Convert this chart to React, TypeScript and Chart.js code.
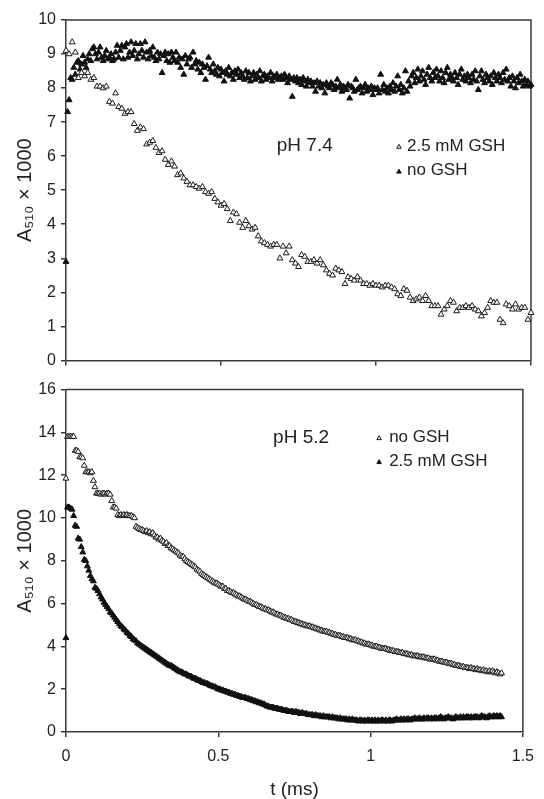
import React, { useEffect, useRef } from "react";
import { Chart, registerables } from "chart.js";

Chart.register(...registerables);

// sampling intervals of the traces (ms)
const DT_COARSE = 0.01;
const DT_FINE = 0.005;

// x axis ticks (ms)
const X_MIN = 0;
const X_MAX = 1.5;
const X_STEP = 0.5;

// y axis ticks
const TOP_Y_MAX = 10;
const TOP_Y_STEP = 1;
const BOT_Y_MAX = 16;
const BOT_Y_STEP = 2;

// pH 7.4, 2.5 mM GSH (open triangles), t = 0 .. 1.50 ms, step 0.01
const TOP_GSH = [
  9.1, 9.0, 9.35, 9.05, 8.3, 8.45, 8.35, 8.45, 8.25, 8.3,
  8.05, 8.05, 8.0, 8.05, 7.6, 7.55, 7.85, 7.45, 7.4, 7.25,
  7.3, 7.3, 6.95, 6.75, 6.85, 6.8, 6.35, 6.4, 6.45, 6.25,
  6.1, 6.15, 5.9, 5.75, 5.85, 5.7, 5.45, 5.5, 5.35, 5.25,
  5.15, 5.15, 5.1, 5.05, 5.1, 4.95, 4.9, 4.95, 4.75, 4.65,
  4.55, 4.6, 4.45, 4.1, 4.35, 4.3, 4.05, 3.9, 4.1, 3.95,
  3.85, 3.9, 3.65, 3.5, 3.45, 3.4, 3.35, 3.4, 3.4, 3.0,
  3.35, 3.15, 3.35, 2.95, 2.85, 2.75, 3.1, 3.05, 2.9, 2.9,
  2.95, 2.85, 2.95, 2.8, 2.65, 2.55, 2.5, 2.7, 2.65, 2.6,
  2.25, 2.45, 2.4, 2.35, 2.45, 2.35, 2.25, 2.25, 2.2, 2.25,
  2.2, 2.2, 2.15, 2.2, 2.2, 2.15, 2.1, 1.95, 1.9, 2.1,
  2.05, 1.85, 1.75, 1.8, 1.85, 1.75, 1.9, 1.75, 1.6, 1.6,
  1.6, 1.35, 1.5, 1.6, 1.75, 1.7, 1.45, 1.55, 1.55, 1.6,
  1.55, 1.6, 1.5, 1.45, 1.3, 1.4, 1.55, 1.75, 1.7, 1.7,
  1.2, 1.1, 1.65, 1.6, 1.5, 1.65, 1.5, 1.55, 1.55, 1.2,
  1.4,
];

// pH 7.4, no GSH (filled triangles), t = 0 .. 1.50 ms, step 0.005
const TOP_NO_GSH = [
  2.9, 7.3, 7.65, 8.3, 8.25, 8.6, 8.4, 8.75, 8.8, 8.55,
  8.7, 8.95, 8.75, 8.6, 8.85, 9.0, 8.8, 9.15, 9.2, 9.0,
  8.85, 9.05, 9.2, 8.9, 8.8, 8.95, 9.1, 8.85, 8.9, 9.0,
  8.8, 8.85, 9.05, 9.25, 8.9, 9.1, 9.25, 8.85, 9.2, 9.3,
  8.9, 9.05, 9.35, 8.95, 9.1, 9.3, 8.85, 9.0, 9.3, 9.1,
  8.9, 9.35, 9.05, 8.85, 9.1, 8.95, 9.2, 8.9, 8.8, 9.05,
  8.85, 9.0, 8.45, 8.95, 9.05, 8.8, 9.0, 8.75, 9.05, 8.9,
  8.8, 9.05, 8.75, 8.9, 8.6, 8.85, 8.4, 8.95, 8.7, 8.85,
  8.9, 8.6, 9.05, 8.7, 8.8, 8.55, 8.75, 8.45, 8.7, 8.6,
  8.25, 8.65, 8.9, 8.55, 8.45, 8.7, 8.5, 8.4, 8.6, 8.35,
  8.55, 8.45, 8.2, 8.5, 8.4, 8.6, 8.35, 8.45, 8.25, 8.5,
  8.4, 8.55, 8.3, 8.45, 8.35, 8.25, 8.5, 8.3, 8.45, 8.2,
  8.35, 8.45, 8.25, 8.4, 8.3, 8.5, 8.2, 8.35, 8.4, 8.25,
  8.35, 8.3, 8.45, 8.2, 8.35, 8.3, 8.4, 8.25, 8.3, 8.35,
  8.25, 8.4, 8.3, 8.15, 8.35, 8.25, 7.75, 8.3, 8.2, 8.3,
  8.15, 8.25, 8.1, 8.3, 8.2, 8.05, 8.25, 8.15, 8.2, 8.05,
  8.15, 7.9, 8.2, 8.05, 8.15, 8.0, 8.1, 7.85, 8.15, 8.05,
  8.0, 8.15, 8.1, 7.95, 8.05, 8.25, 8.0, 8.1, 7.9, 8.05,
  8.0, 7.95, 8.1, 7.7, 8.05, 8.0, 7.9, 8.25, 7.95, 8.0,
  8.05, 7.85, 8.0, 8.1, 7.9, 8.0, 7.95, 8.05, 7.8, 8.0,
  7.95, 8.0, 7.85, 8.4, 7.95, 8.1, 7.9, 8.0, 7.85, 8.05,
  7.95, 8.15, 7.9, 8.05, 8.35, 7.95, 8.1, 7.85, 8.0, 8.5,
  7.9, 8.2, 8.05, 8.35, 8.45, 8.15, 8.3, 8.55, 8.2, 8.35,
  8.5, 8.25, 8.1, 8.4, 8.6, 8.3, 8.2, 8.45, 8.3, 8.55,
  8.35, 8.2, 8.5, 8.3, 8.15, 8.45, 8.6, 8.25, 8.4, 8.3,
  8.2, 8.45, 8.3, 8.1, 8.4, 8.55, 8.25, 8.35, 8.2, 8.4,
  8.3, 8.15, 8.4, 8.25, 8.5, 8.2, 7.95, 8.35, 8.5, 8.25,
  8.15, 8.4, 8.3, 8.2, 8.35, 8.1, 8.45, 8.3, 8.2, 8.4,
  8.3, 8.15, 8.45, 8.25, 8.55, 8.2, 8.3, 8.05, 8.35, 8.2,
  8.0, 8.3, 8.15, 8.4, 8.2, 8.05, 8.25, 8.1, 8.2, 8.05,
  8.1,
];

// pH 5.2, no GSH (open triangles), t = 0 .. 1.43 ms, step 0.005
const BOT_NO_GSH = [
  11.85, 13.8, 13.8, 13.8, 13.8, 13.8, 13.15, 13.15, 13.1, 12.85,
  12.85, 12.8, 12.45, 12.15, 12.15, 12.15, 12.1, 12.15, 11.75, 11.45,
  11.15, 11.15, 11.15, 11.1, 11.15, 11.15, 11.1, 11.15, 11.15, 11.1,
  10.8, 10.5, 10.5, 10.45, 10.15, 10.1, 10.15, 10.1, 10.15, 10.1,
  10.15, 10.1, 10.1, 10.1, 10.05, 10.0, 9.6, 9.55, 9.5, 9.45,
  9.45, 9.4, 9.35, 9.4, 9.3, 9.35, 9.25, 9.3, 9.2, 9.1,
  9.1, 9.0, 9.05, 8.95, 8.9, 8.8, 8.85, 8.7, 8.7, 8.6,
  8.55, 8.5, 8.45, 8.4, 8.35, 8.25, 8.2, 8.2, 8.1, 8.0,
  7.95, 7.9, 7.85, 7.8, 7.75, 7.7, 7.6, 7.55, 7.5, 7.4,
  7.35, 7.3, 7.25, 7.2, 7.15, 7.1, 7.05, 7.0, 6.95, 6.95,
  6.9, 6.85, 6.8, 6.8, 6.7, 6.7, 6.6, 6.6, 6.55, 6.5,
  6.5, 6.45, 6.4, 6.35, 6.35, 6.3, 6.25, 6.2, 6.2, 6.15,
  6.1, 6.1, 6.05, 6.0, 5.95, 5.95, 5.9, 5.85, 5.85, 5.8,
  5.75, 5.75, 5.7, 5.7, 5.65, 5.6, 5.6, 5.55, 5.5, 5.5,
  5.45, 5.45, 5.4, 5.35, 5.35, 5.3, 5.3, 5.25, 5.25, 5.2,
  5.15, 5.15, 5.1, 5.1, 5.05, 5.05, 5.0, 5.0, 4.95, 4.95,
  4.95, 4.9, 4.9, 4.85, 4.85, 4.8, 4.8, 4.75, 4.75, 4.7,
  4.7, 4.7, 4.65, 4.65, 4.6, 4.6, 4.55, 4.55, 4.5, 4.5,
  4.5, 4.45, 4.45, 4.4, 4.4, 4.4, 4.35, 4.35, 4.3, 4.3,
  4.3, 4.25, 4.25, 4.2, 4.2, 4.15, 4.15, 4.1, 4.1, 4.1,
  4.05, 4.05, 4.0, 4.0, 4.0, 3.95, 3.95, 3.9, 3.9, 3.9,
  3.9, 3.85, 3.85, 3.8, 3.8, 3.8, 3.75, 3.75, 3.75, 3.7,
  3.7, 3.7, 3.65, 3.65, 3.65, 3.6, 3.6, 3.6, 3.55, 3.55,
  3.55, 3.55, 3.5, 3.5, 3.5, 3.5, 3.45, 3.45, 3.45, 3.4,
  3.4, 3.4, 3.4, 3.35, 3.35, 3.3, 3.3, 3.3, 3.25, 3.25,
  3.25, 3.2, 3.2, 3.2, 3.15, 3.15, 3.1, 3.1, 3.1, 3.05,
  3.05, 3.05, 3.0, 3.0, 3.0, 2.95, 3.0, 2.95, 2.95, 2.9,
  2.95, 2.9, 2.9, 2.85, 2.9, 2.85, 2.85, 2.8, 2.85, 2.8,
  2.85, 2.8, 2.75, 2.8, 2.75, 2.7, 2.75,
];

// pH 5.2, 2.5 mM GSH (filled triangles), t = 0 .. 1.43 ms, step 0.005
const BOT_GSH = [
  4.4, 10.5, 10.5, 10.45, 10.4, 10.1, 9.65, 9.6, 9.05, 9.0,
  8.65, 8.4, 8.05, 8.0, 7.75, 7.55, 7.3, 7.15, 7.05, 6.75,
  6.7, 6.6, 6.45, 6.3, 6.2, 6.05, 5.95, 5.85, 5.75, 5.6,
  5.55, 5.45, 5.35, 5.25, 5.15, 5.05, 4.95, 4.9, 4.8, 4.75,
  4.65, 4.6, 4.5, 4.45, 4.35, 4.3, 4.25, 4.15, 4.1, 4.05,
  4.0, 3.95, 3.9, 3.85, 3.8, 3.75, 3.7, 3.65, 3.6, 3.55,
  3.5, 3.45, 3.4, 3.35, 3.3, 3.25, 3.2, 3.15, 3.1, 3.1,
  3.05, 3.0, 2.95, 2.9, 2.85, 2.8, 2.8, 2.75, 2.7, 2.7,
  2.65, 2.6, 2.6, 2.55, 2.5, 2.5, 2.45, 2.4, 2.4, 2.35,
  2.3, 2.3, 2.25, 2.25, 2.2, 2.15, 2.15, 2.1, 2.1, 2.05,
  2.0, 2.0, 1.95, 1.95, 1.9, 1.9, 1.85, 1.85, 1.8, 1.8,
  1.75, 1.75, 1.7, 1.7, 1.65, 1.65, 1.6, 1.6, 1.6, 1.55,
  1.55, 1.5, 1.5, 1.45, 1.45, 1.4, 1.4, 1.35, 1.35, 1.3,
  1.3, 1.25, 1.2, 1.2, 1.15, 1.15, 1.15, 1.1, 1.1, 1.1,
  1.05, 1.05, 1.05, 1.0, 1.0, 1.0, 0.95, 0.95, 0.95, 0.95,
  0.9, 0.95, 0.9, 0.9, 0.85, 0.9, 0.85, 0.85, 0.85, 0.8,
  0.8, 0.8, 0.8, 0.75, 0.8, 0.75, 0.75, 0.75, 0.7, 0.75,
  0.7, 0.7, 0.7, 0.7, 0.65, 0.7, 0.65, 0.65, 0.65, 0.6,
  0.65, 0.6, 0.6, 0.6, 0.6, 0.55, 0.6, 0.55, 0.6, 0.55,
  0.55, 0.55, 0.5, 0.55, 0.55, 0.5, 0.55, 0.5, 0.55, 0.55,
  0.5, 0.55, 0.5, 0.55, 0.5, 0.55, 0.5, 0.55, 0.55, 0.5,
  0.55, 0.5, 0.55, 0.55, 0.5, 0.55, 0.55, 0.6, 0.55, 0.55,
  0.6, 0.55, 0.6, 0.55, 0.6, 0.6, 0.55, 0.6, 0.6, 0.65,
  0.6, 0.6, 0.65, 0.6, 0.6, 0.65, 0.6, 0.65, 0.65, 0.6,
  0.65, 0.6, 0.65, 0.65, 0.6, 0.65, 0.7, 0.65, 0.6, 0.65,
  0.65, 0.7, 0.65, 0.65, 0.6, 0.65, 0.7, 0.65, 0.65, 0.7,
  0.65, 0.7, 0.65, 0.7, 0.7, 0.65, 0.7, 0.65, 0.7, 0.7,
  0.7, 0.65, 0.7, 0.75, 0.7, 0.7, 0.65, 0.7, 0.75, 0.7,
  0.7, 0.75, 0.7, 0.75, 0.7, 0.75, 0.7,
];

const Y_TITLE = "A₅₁₀ × 1000";
const X_TITLE = "t (ms)";
const FONT = "'Liberation Sans', Arial, Helvetica, sans-serif";
const INK = "#222";
const AXIS = "#3a3a3a";

const toPoints = (vals: number[], dt: number) =>
  vals.map((v, i) => ({ x: Math.round(i * dt * 10000) / 10000, y: v }));

const openStyle = {
  pointStyle: "triangle",
  pointRadius: 3.4,
  backgroundColor: "#ffffff",
  borderColor: "#1a1a1a",
  borderWidth: 1,
  showLine: false,
  clip: false,
};
const filledStyle = {
  pointStyle: "triangle",
  pointRadius: 3.4,
  backgroundColor: "#111111",
  borderColor: "#111111",
  borderWidth: 1,
  showLine: false,
  clip: false,
};

const framePlugin = {
  id: "frame",
  beforeDatasetsDraw(chart: any) {
    const { ctx, chartArea } = chart;
    ctx.save();
    ctx.strokeStyle = AXIS;
    ctx.lineWidth = 1.5;
    ctx.beginPath();
    ctx.moveTo(chartArea.left, chartArea.top);
    ctx.lineTo(chartArea.right, chartArea.top);
    ctx.lineTo(chartArea.right, chartArea.bottom);
    ctx.stroke();
    ctx.restore();
  },
};

function tri(ctx: any, x: number, y: number, r: number, filled: boolean) {
  ctx.beginPath();
  ctx.moveTo(x, y - r);
  ctx.lineTo(x + r * 0.866, y + r * 0.5);
  ctx.lineTo(x - r * 0.866, y + r * 0.5);
  ctx.closePath();
  ctx.fillStyle = filled ? "#111" : "#fff";
  ctx.fill();
  ctx.strokeStyle = "#111";
  ctx.lineWidth = 1;
  ctx.stroke();
}

const noteLegendPlugin = {
  id: "noteLegend",
  afterDraw(chart: any, _args: any, opts: any) {
    const { ctx } = chart;
    const xs = chart.scales.x;
    const ys = chart.scales.y;
    ctx.save();
    ctx.fillStyle = INK;
    ctx.textBaseline = "middle";
    ctx.textAlign = "left";
    ctx.font = `19px ${FONT}`;
    ctx.fillText(opts.note.text, xs.getPixelForValue(opts.note.x), ys.getPixelForValue(opts.note.y));
    ctx.font = `17px ${FONT}`;
    for (const it of opts.items) {
      const py = ys.getPixelForValue(it.y);
      tri(ctx, xs.getPixelForValue(it.mx), py + 1, 2.6, it.filled);
      ctx.fillStyle = INK;
      ctx.fillText(it.text, xs.getPixelForValue(it.tx), py);
    }
    ctx.restore();
  },
};

function axisCommon() {
  return {
    grid: {
      drawOnChartArea: false,
      drawTicks: true,
      tickLength: 5,
      color: AXIS,
      lineWidth: 1.5,
    },
    border: { display: true, color: AXIS, width: 1.5 },
  };
}

function makeConfig(p: any) {
  return {
    type: "scatter",
    data: { datasets: p.datasets },
    options: {
      responsive: false,
      animation: false,
      events: [],
      layout: { padding: { left: 0, top: p.padTop, right: 13, bottom: 0 } },
      plugins: {
        legend: { display: false },
        tooltip: { enabled: false },
        noteLegend: p.legend,
      },
      scales: {
        x: {
          type: "linear",
          min: X_MIN,
          max: X_MAX,
          ...axisCommon(),
          ticks: {
            stepSize: X_STEP,
            color: INK,
            font: { size: 16, family: FONT },
            padding: 10,
            maxRotation: 0,
            callback: p.showX ? (v: any) => String(v) : () => "",
          },
          title: p.showX
            ? {
                display: true,
                text: X_TITLE,
                color: INK,
                font: { size: 19, family: FONT, lineHeight: 1 },
                padding: { top: 0, bottom: 0 },
              }
            : { display: false },
          afterFit: (s: any) => {
            s.height = p.xHeight;
          },
        },
        y: {
          type: "linear",
          min: 0,
          max: p.yMax,
          ...axisCommon(),
          ticks: {
            stepSize: p.yStep,
            color: INK,
            font: { size: 16, family: FONT },
            padding: 5,
          },
          title: {
            display: true,
            text: Y_TITLE,
            color: INK,
            font: { size: 20, family: FONT, lineHeight: 1.2 },
            padding: { top: 13, bottom: 0 },
          },
          afterFit: (s: any) => {
            s.width = 66;
          },
        },
      },
    },
    plugins: [framePlugin, noteLegendPlugin],
  };
}

function Panel({ top, height, config }: any) {
  const ref = useRef<HTMLCanvasElement | null>(null);
  useEffect(() => {
    if (!ref.current) return;
    const chart = new Chart(ref.current, config);
    return () => chart.destroy();
  }, []);
  return (
    <div style={{ position: "absolute", left: 0, top, width: 544, height }}>
      <canvas ref={ref} width={544} height={height} style={{ display: "block" }} />
    </div>
  );
}

export default function App() {
  Chart.defaults.font.family = FONT;
  const topConfig = makeConfig({
    datasets: [
      { label: "2.5 mM GSH", data: toPoints(TOP_GSH, DT_COARSE), ...openStyle },
      { label: "no GSH", data: toPoints(TOP_NO_GSH, DT_FINE), ...filledStyle },
    ],
    padTop: 20,
    xHeight: 12,
    showX: false,
    yMax: TOP_Y_MAX,
    yStep: TOP_Y_STEP,
    legend: {
      note: { text: "pH 7.4", x: 0.68, y: 6.3 },
      items: [
        { text: "2.5 mM GSH", mx: 1.074, tx: 1.1, y: 6.3, filled: false },
        { text: "no GSH", mx: 1.074, tx: 1.1, y: 5.57, filled: true },
      ],
    },
  });
  const botConfig = makeConfig({
    datasets: [
      { label: "no GSH", data: toPoints(BOT_NO_GSH, DT_FINE), ...openStyle },
      { label: "2.5 mM GSH", data: toPoints(BOT_GSH, DT_FINE), ...filledStyle },
    ],
    padTop: 14,
    xHeight: 67,
    showX: true,
    yMax: BOT_Y_MAX,
    yStep: BOT_Y_STEP,
    legend: {
      note: { text: "pH 5.2", x: 0.68, y: 13.77 },
      items: [
        { text: "no GSH", mx: 1.028, tx: 1.061, y: 13.77, filled: false },
        { text: "2.5 mM GSH", mx: 1.028, tx: 1.061, y: 12.65, filled: true },
      ],
    },
  });
  return (
    <div style={{ position: "absolute", left: 0, top: 0, width: 544, height: 799, background: "#fff" }}>
      <Panel top={0} height={375} config={topConfig} />
      <Panel top={375} height={424} config={botConfig} />
    </div>
  );
}
